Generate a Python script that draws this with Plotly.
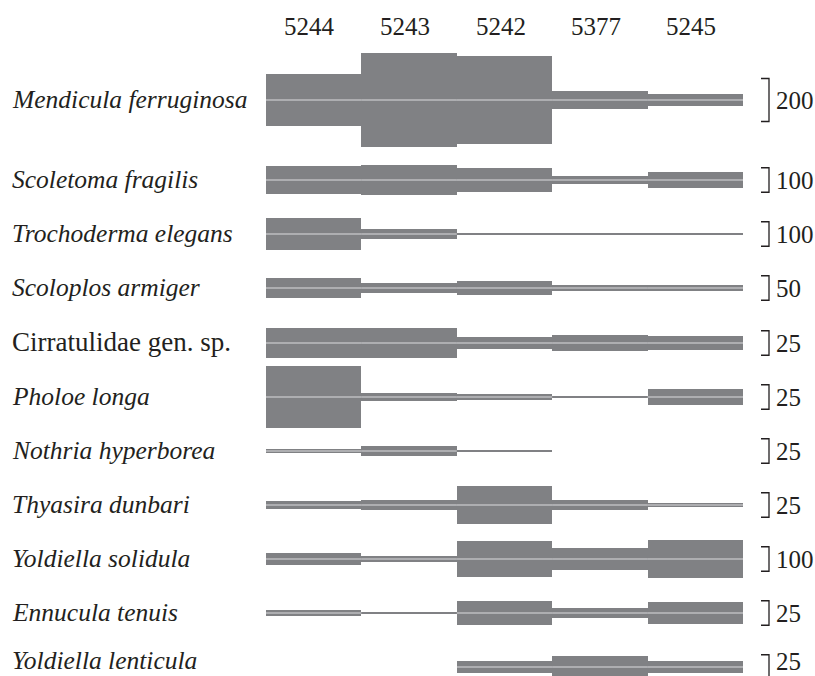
import plotly.graph_objects as go

# Stations (columns) and species (rows)
stations = ["5244", "5243", "5242", "5377", "5245"]
species = [
    "Mendicula ferruginosa",
    "Scoletoma fragilis",
    "Trochoderma elegans",
    "Scoloplos armiger",
    "Cirratulidae gen. sp.",
    "Pholoe longa",
    "Nothria hyperborea",
    "Thyasira dunbari",
    "Yoldiella solidula",
    "Ennucula tenuis",
    "Yoldiella lenticula",
]
italic_name = [True, True, True, True, False, True, True, True, True, True, True]

# Abundance of each species at each station
mendicula_ferruginosa = [240, 440, 405, 88, 56]
scoletoma_fragilis = [112, 124, 99, 36, 65]
trochoderma_elegans = [133, 43, 6, 6, 6]
scoloplos_armiger = [42, 21, 27, 12, 14]
cirratulidae_sp = [30, 30, 12, 17, 14]
pholoe_longa = [63, 8, 5.7, 3, 16]
nothria_hyperborea = [4.7, 10, 2, 0, 0]
thyasira_dunbari = [7.4, 10.8, 39, 9.5, 4.4]
yoldiella_solidula = [49, 24, 143, 86, 157]
ennucula_tenuis = [6, 1.4, 24, 10, 23]
yoldiella_lenticula = [0, 0, 12, 23, 12]

# Scale-bar value for each row
scale_values = [200, 100, 100, 50, 25, 25, 25, 25, 100, 25, 25]

abundances = [
    mendicula_ferruginosa, scoletoma_fragilis, trochoderma_elegans,
    scoloplos_armiger, cirratulidae_sp, pholoe_longa, nothria_hyperborea,
    thyasira_dunbari, yoldiella_solidula, ennucula_tenuis, yoldiella_lenticula,
]

# Page geometry (pixels)
W, H = 815, 676
row_y = [100, 180, 234, 288, 343, 397, 451, 505, 559, 613, 667]
bar_len = [43] + [24.5] * 10          # drawn length of each row's scale bar
col_left, col_w = 266, 95.4           # left edge and width of a station column

x0 = -0.5 - col_left / col_w
x1 = x0 + W / col_w

BAR = "#808184"
INK = "#231f20"
FONT = "Liberation Serif"

fig = go.Figure()
shapes = []
annotations = []

for r, (name, vals) in enumerate(zip(species, abundances)):
    k = bar_len[r] / scale_values[r]
    heights = [v * k for v in vals]
    xs = list(range(len(stations)))
    fig.add_trace(go.Bar(
        x=xs, y=heights, base=[row_y[r] - h / 2 for h in heights],
        width=1.0, marker=dict(color=BAR, line=dict(width=0)),
        hoverinfo="skip", showlegend=False,
    ))
    # light centre line through the wider segments
    lx, ly = [], []
    for i, h in enumerate(heights):
        if h >= 3.5:
            lx += [i - 0.5, i + 0.5, None]
            ly += [row_y[r], row_y[r], None]
    fig.add_trace(go.Scatter(
        x=lx, y=ly, mode="lines", line=dict(color="rgba(235,235,238,0.85)", width=1),
        hoverinfo="skip", showlegend=False,
    ))
    # scale bracket
    top, bot = row_y[r] - bar_len[r] / 2, row_y[r] + bar_len[r] / 2
    bx, tx = 769 / W, 761 / W
    shapes.append(dict(
        type="path", xref="paper", yref="y",
        path=f"M {tx} {top} L {bx} {top} L {bx} {bot} L {tx} {bot}",
        line=dict(color=INK, width=1.3),
    ))
    # keep the bottom row's text inside the page
    label_y = min(row_y[r], H - 15)
    annotations.append(dict(
        x=774 / W, xref="paper", y=label_y, yref="y",
        text=str(scale_values[r]), showarrow=False,
        xanchor="left", yanchor="middle",
        font=dict(family=FONT, size=25, color=INK),
    ))
    label = f"<i>{name}</i>" if italic_name[r] else name
    annotations.append(dict(
        x=10 / W, xref="paper", y=label_y - 1, yref="y",
        text=label, showarrow=False, xanchor="left", yanchor="middle",
        font=dict(family=FONT, size=25.5 if italic_name[r] else 27, color=INK),
    ))

for i, s in enumerate(stations):
    annotations.append(dict(
        x=i, xref="x", y=26, yref="y", xshift=-4,
        text=s, showarrow=False, xanchor="center", yanchor="middle",
        font=dict(family=FONT, size=25, color=INK),
    ))

fig.update_layout(
    width=W, height=H,
    margin=dict(l=0, r=0, t=0, b=0),
    paper_bgcolor="white", plot_bgcolor="white",
    barmode="overlay", bargap=0,
    xaxis=dict(range=[x0, x1], visible=False, fixedrange=True),
    yaxis=dict(range=[H, 0], visible=False, fixedrange=True),
    shapes=shapes, annotations=annotations,
)

fig.write_html("out.html")
